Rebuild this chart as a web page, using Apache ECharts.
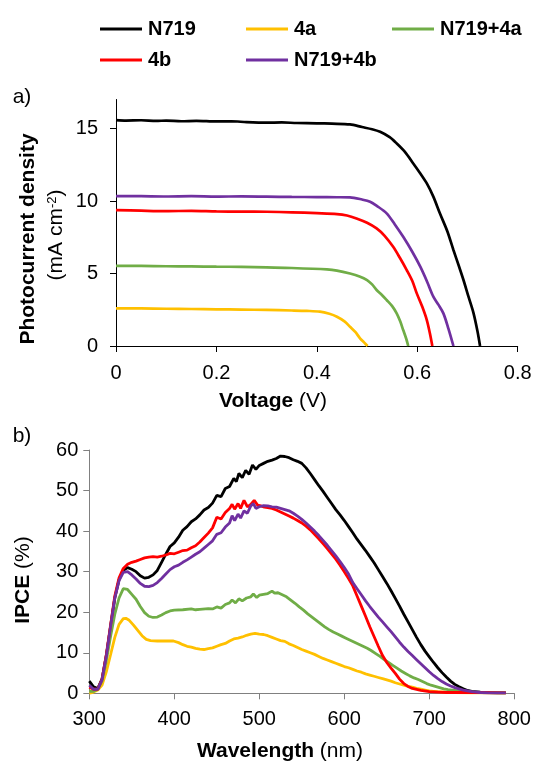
<!DOCTYPE html>
<html>
<head>
<meta charset="utf-8">
<script src="https://cdn.jsdelivr.net/npm/echarts@6/dist/echarts.min.js"></script>
<style>
html,body{margin:0;padding:0;background:#fff;}
#chart{width:546px;height:762px;}
</style>
</head>
<body>
<div id="chart"></div>
<script>
// ---------- Data ----------
const seriesNames = ['N719', '4a', 'N719+4a', '4b', 'N719+4b'];
const seriesColors = ['#000000', '#FFC000', '#70AD47', '#FF0000', '#7030A0'];

// a) J-V curves: [voltage (V), photocurrent density (mA cm-2)]
const ivN719 = [[0,15.58],[0.02,15.55],[0.05,15.57],[0.08,15.52],[0.1,15.55],[0.13,15.5],[0.16,15.53],[0.2,15.49],[0.23,15.5],[0.26,15.44],[0.3,15.40],[0.33,15.42],[0.36,15.38],[0.4,15.36],[0.43,15.33],[0.466,15.28],[0.49,15.1],[0.51,14.95],[0.526,14.77],[0.545,14.4],[0.559,13.97],[0.575,13.4],[0.592,12.59],[0.605,11.95],[0.619,11.21],[0.632,10.3],[0.645,9.15],[0.66,7.9],[0.672,6.62],[0.683,5.5],[0.692,4.55],[0.702,3.4],[0.712,2.27],[0.72,1.0],[0.725,0]];
const iv4a = [[0,2.60],[0.05,2.59],[0.1,2.57],[0.15,2.55],[0.2,2.53],[0.25,2.51],[0.3,2.49],[0.35,2.45],[0.38,2.42],[0.406,2.37],[0.425,2.22],[0.44,2.02],[0.455,1.7],[0.466,1.33],[0.477,0.95],[0.486,0.53],[0.494,0.25],[0.501,0]];
const ivN719_4a = [[0,5.53],[0.05,5.52],[0.1,5.50],[0.15,5.49],[0.2,5.47],[0.25,5.46],[0.3,5.42],[0.35,5.38],[0.42,5.28],[0.44,5.2],[0.466,5.0],[0.485,4.8],[0.5,4.55],[0.51,4.25],[0.519,3.86],[0.53,3.5],[0.539,3.17],[0.55,2.75],[0.559,2.25],[0.566,1.7],[0.572,1.1],[0.578,0.5],[0.582,0]];
const iv4b = [[0,9.37],[0.05,9.33],[0.1,9.30],[0.15,9.32],[0.2,9.28],[0.25,9.27],[0.3,9.26],[0.35,9.22],[0.4,9.16],[0.44,9.1],[0.46,9.0],[0.479,8.8],[0.5,8.5],[0.519,8.11],[0.535,7.6],[0.552,6.84],[0.565,6.1],[0.579,5.24],[0.59,4.5],[0.599,3.63],[0.61,2.7],[0.619,1.79],[0.625,0.9],[0.63,0]];
const ivN719_4b = [[0,10.34],[0.05,10.33],[0.1,10.31],[0.15,10.33],[0.2,10.30],[0.25,10.32],[0.3,10.3],[0.35,10.28],[0.4,10.27],[0.44,10.26],[0.466,10.25],[0.49,10.1],[0.506,9.95],[0.52,9.65],[0.539,9.15],[0.555,8.4],[0.572,7.53],[0.59,6.5],[0.606,5.47],[0.62,4.4],[0.632,3.4],[0.642,2.85],[0.652,2.25],[0.662,1.2],[0.672,0]];

// b) IPCE spectra: [wavelength (nm), IPCE (%)]
const ipceN719 = [[300,3.0],[305,1.6],[310,1.2],[315,3.5],[320,9.3],[325,16.4],[330,23.5],[335,28],[340,30.3],[345,31.0],[350,30.6],[355,30.0],[360,29.0],[365,28.4],[370,28.6],[375,29.2],[380,30.3],[385,32.3],[390,34.3],[395,36.2],[400,37.1],[405,38.5],[410,40.2],[415,41.1],[420,42.3],[425,43.0],[430,44.0],[435,45.2],[440,45.8],[445,46.9],[450,48.8],[455,48.5],[460,50.5],[465,51.0],[470,53.0],[473,52.2],[476,54.2],[480,53.2],[484,55.0],[488,54.0],[492,56.3],[496,55.2],[500,56.2],[505,56.7],[510,57.2],[515,57.5],[520,57.9],[525,58.5],[530,58.4],[535,58.1],[540,57.6],[545,57.2],[550,56.7],[555,55.6],[560,54.2],[565,52.7],[570,51.2],[575,49.8],[580,48.3],[585,46.8],[590,45.3],[595,44.0],[600,42.6],[605,41.1],[610,39.6],[615,38.0],[620,36.6],[625,35.2],[630,33.7],[635,32.2],[640,30.5],[645,28.8],[650,27.1],[655,25.3],[660,23.4],[665,21.5],[670,19.5],[675,17.6],[680,15.7],[685,13.8],[690,12.0],[695,10.4],[700,9.0],[705,7.6],[710,6.3],[715,5.1],[720,4.0],[725,3.0],[730,2.2],[735,1.6],[740,1.1],[745,0.7],[750,0.5],[760,0.3],[770,0.2],[780,0.1],[790,0.1]];
const ipce4a = [[300,0.0],[305,0.3],[310,0.8],[315,2.0],[320,5.3],[325,9.5],[330,13.8],[335,17.0],[340,18.4],[343,18.5],[347,18.0],[352,16.8],[357,15.5],[362,14.2],[367,13.3],[372,13.0],[380,12.9],[390,12.9],[399,12.9],[405,12.5],[410,12.0],[415,11.6],[420,11.4],[425,11.1],[430,10.9],[435,10.8],[440,11.0],[445,11.2],[450,11.6],[455,12.0],[460,12.3],[465,12.9],[470,13.4],[475,13.6],[480,13.9],[485,14.3],[490,14.6],[495,14.8],[500,14.6],[505,14.5],[510,14.2],[515,13.8],[520,13.4],[525,13.0],[530,12.8],[535,12.2],[540,11.8],[545,11.3],[550,10.8],[555,10.4],[560,10.0],[565,9.6],[570,9.1],[575,8.6],[580,8.2],[585,7.8],[590,7.4],[595,7.0],[600,6.6],[605,6.3],[610,5.9],[615,5.5],[620,5.2],[625,4.8],[630,4.5],[635,4.2],[640,3.9],[645,3.6],[650,3.3],[655,3.0],[660,2.6],[665,2.3],[670,2.0],[675,1.7],[680,1.5],[685,1.2],[690,1.0],[695,0.8],[700,0.6],[705,0.5],[710,0.4],[720,0.3],[730,0.2],[750,0.1],[790,0.1]];
const ipceN719_4a = [[300,0.5],[305,0.5],[310,1.0],[315,3.0],[320,8.0],[325,14.0],[330,19.5],[335,23.5],[340,25.8],[342,26.2],[345,25.6],[350,24.4],[355,23.2],[360,21.4],[365,19.9],[370,19.0],[375,18.7],[380,18.8],[385,19.3],[390,19.9],[395,20.3],[400,20.5],[410,20.6],[420,20.8],[425,20.6],[430,20.7],[440,20.9],[445,20.8],[450,21.3],[455,21.0],[460,21.9],[465,22.3],[468,23.0],[472,22.3],[476,23.3],[480,22.8],[485,23.5],[490,23.8],[493,24.5],[497,23.6],[500,24.2],[505,24.4],[510,24.6],[515,25.2],[518,24.7],[522,24.8],[527,24.3],[532,23.8],[537,23.0],[542,22.2],[547,21.3],[552,20.5],[557,19.6],[562,18.8],[567,18.0],[572,17.2],[577,16.4],[582,15.7],[587,15.1],[592,14.6],[597,14.1],[602,13.6],[607,13.1],[612,12.6],[617,12.1],[622,11.6],[627,11.1],[632,10.5],[637,9.8],[642,9.1],[647,8.3],[652,7.6],[657,6.9],[662,6.2],[667,5.5],[672,4.9],[677,4.3],[682,3.8],[687,3.4],[692,2.9],[697,2.4],[702,2.0],[707,1.7],[712,1.4],[717,1.1],[722,0.9],[730,0.7],[740,0.4],[750,0.3],[760,0.2],[790,0.1]];
const ipce4b = [[300,1.5],[305,1.0],[310,1.0],[315,3.5],[320,9.5],[325,16.8],[330,24],[335,28.5],[340,30.8],[345,31.8],[350,32.3],[355,32.6],[360,33.0],[365,33.4],[370,33.6],[375,33.7],[380,33.6],[385,33.8],[390,34.1],[395,34.5],[400,34.4],[405,34.8],[410,35.2],[415,35.3],[420,35.9],[425,36.4],[430,37.3],[435,38.4],[440,39.5],[445,40.8],[450,43.4],[455,43.0],[460,44.6],[465,45.6],[468,46.6],[471,45.4],[475,46.8],[478,45.6],[482,47.6],[486,46.0],[490,46.6],[494,47.6],[498,46.4],[502,46.2],[506,45.9],[510,45.8],[515,45.6],[520,45.2],[525,44.7],[530,44.2],[535,43.7],[540,43.2],[545,42.6],[550,42.0],[555,41.2],[560,40.3],[565,39.2],[570,38.1],[575,36.9],[580,35.7],[585,34.4],[590,33.1],[595,31.6],[600,30.0],[605,28.3],[610,26.5],[615,24.0],[620,21.5],[625,19.0],[630,16.4],[635,14.0],[640,11.6],[645,9.3],[650,7.6],[655,6.2],[660,4.9],[665,3.5],[670,2.4],[675,1.7],[680,1.2],[690,0.7],[700,0.4],[710,0.3],[720,0.2],[740,0.2],[760,0.2],[790,0.1]];
const ipceN719_4b = [[300,2.0],[305,1.0],[310,1.0],[315,3.4],[320,9.2],[325,16.5],[330,23.5],[335,27.8],[340,29.8],[345,30.0],[350,29.2],[355,28.2],[360,27.1],[365,26.4],[370,26.3],[375,26.6],[380,27.3],[385,28.3],[390,29.4],[395,30.5],[400,31.2],[405,31.6],[410,32.3],[415,32.9],[420,33.6],[425,34.3],[430,34.9],[435,35.8],[440,36.7],[445,37.6],[450,39.2],[455,39.6],[460,41.0],[465,42.0],[468,43.8],[471,42.6],[475,44.2],[478,43.2],[482,45.0],[486,44.4],[490,46.2],[493,46.8],[496,45.6],[500,46.0],[505,46.3],[510,46.2],[515,46.0],[520,45.9],[525,45.6],[530,45.3],[535,45.0],[540,44.4],[545,43.7],[550,42.9],[555,42.0],[560,41.0],[565,40.0],[570,38.9],[575,37.7],[580,36.5],[585,35.2],[590,33.9],[595,32.5],[600,31.0],[605,29.4],[610,27.3],[615,25.8],[620,24.3],[625,22.8],[630,21.4],[635,20.1],[640,18.8],[645,17.6],[650,16.4],[655,15.2],[660,13.9],[665,12.6],[670,11.4],[675,10.3],[680,9.3],[685,8.3],[690,7.3],[695,6.3],[700,5.3],[705,4.4],[710,3.6],[715,2.9],[720,2.3],[725,1.8],[730,1.4],[740,0.8],[750,0.4],[760,0.2],[770,0.1],[790,0.1]];

// tick labels
const ivXTicks = [0, 0.2, 0.4, 0.6, 0.8];
const ivYTicks = [0, 5, 10, 15];
const ipceXTicks = [300, 400, 500, 600, 700, 800];
const ipceYTicks = [0, 10, 20, 30, 40, 50, 60];

const ivData = [ivN719, iv4a, ivN719_4a, iv4b, ivN719_4b];
const ipceData = [ipceN719, ipce4a, ipceN719_4a, ipce4b, ipceN719_4b];

// ---------- Chart ----------
const FONT = '"Liberation Sans", Arial, sans-serif';
const chart = echarts.init(document.getElementById('chart'), null, {renderer: 'canvas'});

function makeAxis(base, color, margin, ticks) {
  return Object.assign(base, {
    type: 'value',
    axisLine: {show: true, onZero: false, lineStyle: {color: color, width: 1}},
    axisTick: {show: true, inside: false, length: 6, lineStyle: {color: color, width: 1}, customValues: ticks},
    axisLabel: {fontFamily: FONT, fontSize: 20, color: '#000', margin: margin, customValues: ticks},
    splitLine: {show: false}
  });
}

const series = [];
seriesNames.forEach((name, i) => {
  series.push({
    name: name, type: 'line', xAxisIndex: 0, yAxisIndex: 0,
    data: ivData[i], showSymbol: false, symbol: 'none', smooth: 0.3,
    lineStyle: {color: seriesColors[i], width: 2.7},
    itemStyle: {color: seriesColors[i]}, z: 2 + i
  });
});
seriesNames.forEach((name, i) => {
  series.push({
    name: name, type: 'line', xAxisIndex: 1, yAxisIndex: 1,
    data: ipceData[i], showSymbol: false, symbol: 'none', smooth: false,
    lineStyle: {color: seriesColors[i], width: 2.8},
    itemStyle: {color: seriesColors[i]}, z: 2 + i
  });
});

const legendPos = [[95, 14], [241, 14], [387, 14], [95, 45], [241, 45]];
const legends = seriesNames.map((name, i) => ({
  data: [name], left: legendPos[i][0], top: legendPos[i][1],
  icon: 'rect', itemWidth: 42, itemHeight: 3, selectedMode: false,
  textStyle: {fontFamily: FONT, fontSize: 20, fontWeight: 'bold', color: '#000', padding: [0, 0, 0, 1]}
}));

function rtext(x, y, text, rich, rot) {
  return {
    type: 'text', x: x, y: y, rotation: rot || 0, silent: true,
    style: {text: text, rich: rich, align: 'center', verticalAlign: 'middle', fill: '#000', fontFamily: FONT, fontSize: 21}
  };
}
const richTitle = {
  b: {fontFamily: FONT, fontSize: 21, fontWeight: 'bold', color: '#000'},
  n: {fontFamily: FONT, fontSize: 21, color: '#000'},
  s: {fontFamily: FONT, fontSize: 13, color: '#000', verticalAlign: 'top', lineHeight: 13}
};

const option = {
  animation: false,
  backgroundColor: '#ffffff',
  legend: legends,
  grid: [
    {left: 116, top: 99.5, right: 28.3, bottom: 416, containLabel: false},
    {left: 89.3, top: 450, right: 31.7, bottom: 68.7, containLabel: false}
  ],
  xAxis: [
    makeAxis({gridIndex: 0, min: 0, max: 0.8, interval: 0.2}, '#000', 17, ivXTicks),
    makeAxis({gridIndex: 1, min: 300, max: 800, interval: 100}, '#808080', 16, ipceXTicks)
  ],
  yAxis: [
    makeAxis({gridIndex: 0, min: 0, max: 17, interval: 5}, '#000', 18, ivYTicks),
    makeAxis({gridIndex: 1, min: 0, max: 60, interval: 10}, '#808080', 11, ipceYTicks)
  ],
  series: series,
  graphic: [
    rtext(22, 97, '{n|a)}', richTitle),
    rtext(22, 436, '{n|b)}', richTitle),
    rtext(28, 239, '{b|Photocurrent density}', richTitle, Math.PI / 2),
    rtext(56, 235, '{n|(mA cm}{s|-2}{n|)}', richTitle, Math.PI / 2),
    rtext(273, 401, '{b|Voltage}{n| (V)}', richTitle),
    rtext(23, 580, '{b|IPCE}{n| (%)}', richTitle, Math.PI / 2),
    rtext(280, 751, '{b|Wavelength}{n| (nm)}', richTitle)
  ]
};
chart.setOption(option);
</script>
</body>
</html>
